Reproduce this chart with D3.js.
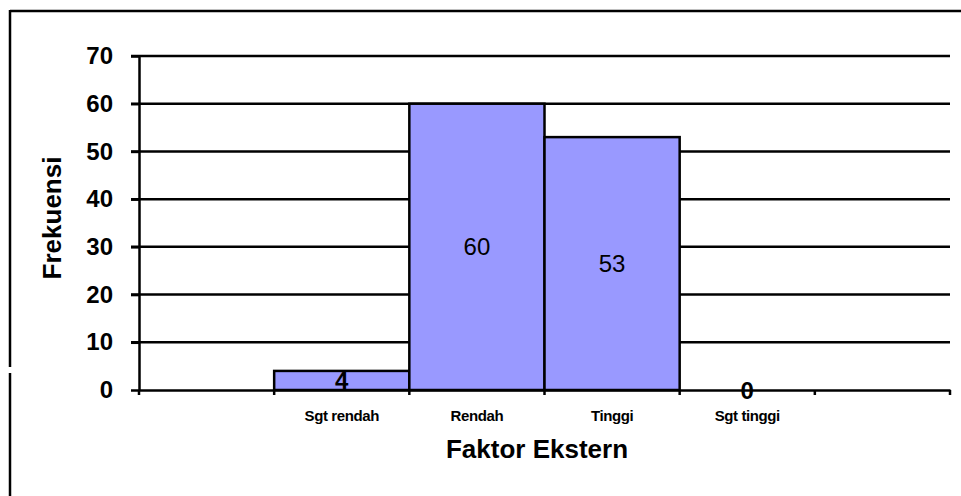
<!DOCTYPE html>
<html>
<head>
<meta charset="utf-8">
<script src="https://cdn.jsdelivr.net/npm/d3@7"></script>
<style>
  body { margin: 0; background: #fff; }
  text { font-family: "Liberation Sans", Arial, sans-serif; }
</style>
</head>
<body>
<svg id="chart" width="961" height="496"></svg>
<script>
// categories (first and last slots are empty, as in the original sheet)
var categories = ["c0", "Sgt rendah", "Rendah", "Tinggi", "Sgt tinggi", "c5"];
var labels = ["", "Sgt rendah", "Rendah", "Tinggi", "Sgt tinggi", ""];
var values = [null, 4, 60, 53, 0, null];
var yTicks = [0, 10, 20, 30, 40, 50, 60, 70];

var svg = d3.select("#chart");
var margin = { left: 139, top: 56, right: 11, bottom: 106 };
var w = 961 - margin.left - margin.right,
    h = 496 - margin.top - margin.bottom;

// outer frame (top + left only, with the little break near the bottom)
svg.append("line").attr("x1", 10).attr("x2", 961).attr("y1", 11).attr("y2", 11)
   .attr("stroke", "#000").attr("stroke-width", 2.5);
svg.append("line").attr("x1", 10).attr("x2", 10).attr("y1", 10).attr("y2", 367)
   .attr("stroke", "#000").attr("stroke-width", 2.5);
svg.append("line").attr("x1", 10).attr("x2", 10).attr("y1", 373).attr("y2", 496)
   .attr("stroke", "#000").attr("stroke-width", 2.5);

var g = svg.append("g").attr("transform", "translate(" + margin.left + "," + margin.top + ")");

var x = d3.scaleBand().domain(categories).range([0, w]).padding(0);
var y = d3.scaleLinear().domain([0, 70]).range([h, 0]);

// gridlines
g.selectAll("line.grid").data(yTicks.slice(1)).enter().append("line")
  .attr("class", "grid")
  .attr("x1", -8).attr("x2", w)
  .attr("y1", function(d) { return y(d); }).attr("y2", function(d) { return y(d); })
  .attr("stroke", "#000").attr("stroke-width", 2.5);

// bars
var barData = categories.map(function(c, i) { return { c: c, v: values[i] }; })
  .filter(function(d) { return d.v !== null; });

g.selectAll("rect.bar").data(barData).enter().append("rect")
  .attr("class", "bar")
  .attr("x", function(d) { return x(d.c); })
  .attr("width", x.bandwidth())
  .attr("y", function(d) { return y(d.v); })
  .attr("height", function(d) { return h - y(d.v); })
  .attr("fill", "#9999ff")
  .attr("stroke", "#000").attr("stroke-width", 2.5);

// value labels, centred in the bar
g.selectAll("text.val").data(barData).enter().append("text")
  .attr("class", "val")
  .attr("x", function(d) { return x(d.c) + x.bandwidth() / 2; })
  .attr("y", function(d) { return y(d.v / 2); })
  .attr("dy", "0.36em")
  .attr("text-anchor", "middle")
  .style("font-size", "24px")
  .style("font-weight", function(d) { return d.v < 10 ? "bold" : "normal"; })
  .text(function(d) { return d.v; });

// y axis
var yAxis = g.append("g").call(d3.axisLeft(y).tickValues(yTicks).tickSize(8).tickSizeOuter(0));
yAxis.select(".domain").attr("stroke-width", 2.5);
yAxis.selectAll(".tick line").attr("stroke-width", 2.5);
yAxis.selectAll(".tick text")
  .attr("x", -26)
  .style("font-size", "24px").style("font-weight", "bold")
  .style("font-family", "'Liberation Sans', Arial, sans-serif");

// x axis
var xAxis = g.append("g").attr("transform", "translate(0," + h + ")")
  .call(d3.axisBottom(x).tickSize(0).tickFormat(function(d, i) { return labels[i]; }));
xAxis.select(".domain").attr("stroke-width", 2.5);
xAxis.selectAll(".tick text")
  .attr("y", 20)
  .style("font-size", "15px").style("font-weight", "bold")
  .style("font-family", "'Liberation Sans', Arial, sans-serif")
  .style("letter-spacing", "-0.4px");
// tick marks at band boundaries
g.selectAll("line.xtick").data(categories.concat(["end"])).enter().append("line")
  .attr("class", "xtick")
  .attr("x1", function(d, i) { return i * x.step(); })
  .attr("x2", function(d, i) { return i * x.step(); })
  .attr("y1", h).attr("y2", h + 5)
  .attr("stroke", "#000").attr("stroke-width", 2.5);

// axis titles
svg.append("text")
  .attr("transform", "translate(61,218) rotate(-90)")
  .attr("text-anchor", "middle")
  .style("font-size", "26px").style("font-weight", "bold")
  .text("Frekuensi");

svg.append("text")
  .attr("x", 537).attr("y", 458)
  .attr("text-anchor", "middle")
  .style("font-size", "26px").style("font-weight", "bold")
  .text("Faktor Ekstern");
</script>
</body>
</html>
